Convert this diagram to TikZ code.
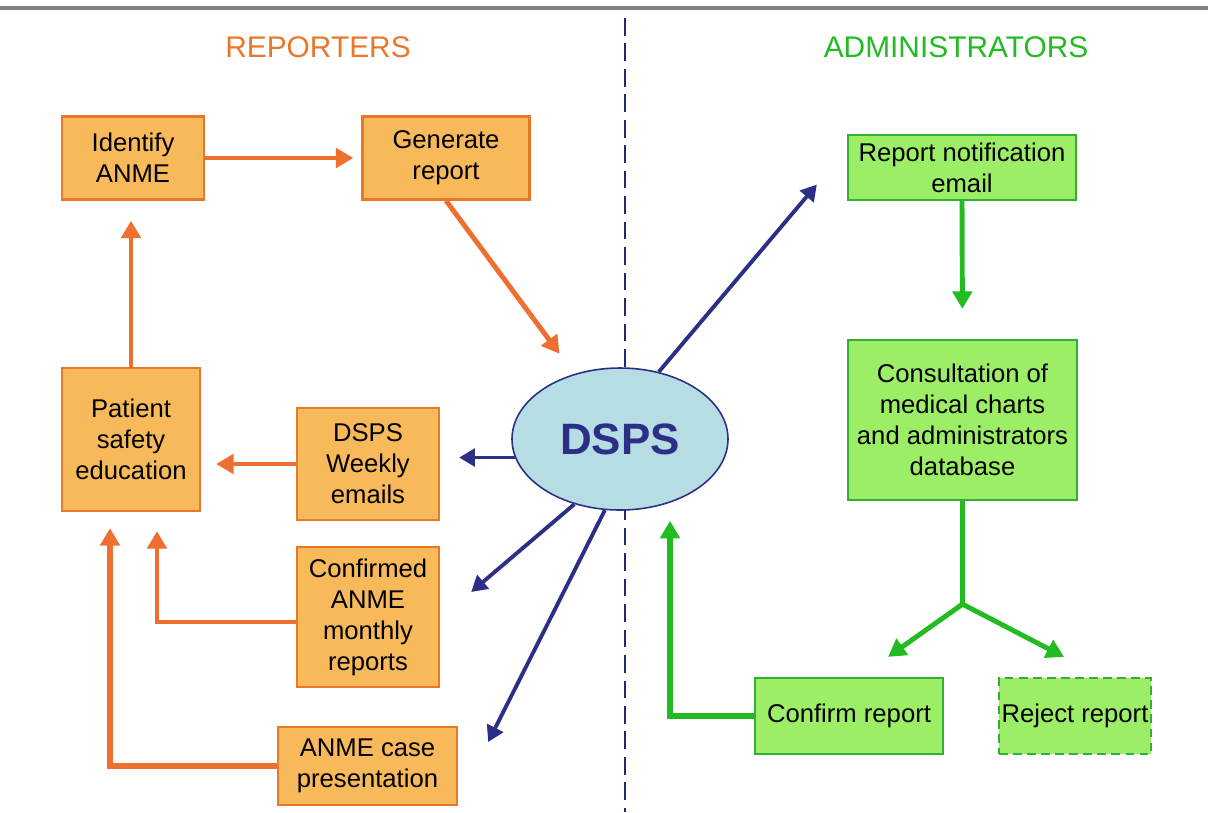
\documentclass[tikz,border=0pt]{standalone}
\usepackage{fontspec}
\setmainfont{Liberation Sans}
\usepackage{tikz}
\usetikzlibrary{shapes.geometric,arrows.meta}
\definecolor{repfill}{HTML}{F7B95A}
\definecolor{repline}{HTML}{E8782A}
\definecolor{reparrow}{HTML}{EE7030}
\definecolor{admfill}{HTML}{9CEE66}
\definecolor{admline}{HTML}{33B033}
\definecolor{admarrow}{HTML}{22BB22}
\definecolor{navy}{HTML}{2B2F86}
\definecolor{hubfill}{HTML}{B6DDE3}
\tikzset{
  box/.style = {align=center, inner sep=0pt, text centered, font=\fontsize{14.6}{17.6}\selectfont, line width=1.3pt},
  rbox/.style = {box, rectangle, draw=repline, fill=repfill},
  abox/.style = {box, rectangle, draw=admline, fill=admfill},
  hub/.style = {ellipse, draw=navy, fill=hubfill, line width=0.9pt, minimum width=4.32cm, minimum height=2.84cm, text=navy, font=\fontsize{25}{30}\bfseries},
  header/.style = {font=\fontsize{17}{20}\selectfont},
  rarrow/.style = {draw=reparrow, line width=2.8pt, -{Triangle[length=10pt,width=11pt]}},
  aarrow/.style = {draw=admarrow, line width=2.8pt, -{Triangle[length=10pt,width=11pt]}},
  barrow/.style = {draw=navy, line width=2.2pt, -{Triangle[length=9pt,width=10pt]}},
}

\begin{document}
\begin{tikzpicture}
\useasboundingbox (0,0) rectangle (24.16,-16.24);
\draw [gray, line width=2.2pt] (0,-0.16) -- (24.16,-0.16);
\draw [navy!85!black, line width=1.4pt, dash pattern=on 10pt off 4.5pt] (12.5,-0.36) -- (12.5,-16.24);

\node [header, text=repline] (rep) at (6.36,-0.94) {REPORTERS};
\node [header, text=admarrow] (adm) at (19.12,-0.94) {ADMINISTRATORS};

\node [rbox, minimum width=2.84cm, minimum height=1.66cm] (ident) at (2.66,-3.16) {Identify\\ANME};
\node [rbox, minimum width=3.34cm, minimum height=1.66cm] (gen) at (8.92,-3.16) {Generate\\report};
\node [rbox, minimum width=2.76cm, minimum height=2.86cm] (edu) at (2.62,-8.79) {Patient\\safety\\education};
\node [rbox, minimum width=2.84cm, minimum height=2.24cm] (weekly) at (7.36,-9.28) {DSPS\\Weekly\\emails};
\node [rbox, minimum width=2.84cm, minimum height=2.8cm] (monthly) at (7.36,-12.34) {Confirmed\\ANME\\monthly\\reports};
\node [rbox, minimum width=3.58cm, minimum height=1.56cm] (case) at (7.35,-15.32) {ANME case\\presentation};

\node [hub] (dsps) at (12.4,-8.78) {DSPS};

\node [abox, minimum width=4.56cm, minimum height=1.3cm] (notif) at (19.24,-3.35) {Report notification\\email};
\node [abox, minimum width=4.58cm, minimum height=3.2cm] (consult) at (19.25,-8.4) {Consultation of\\medical charts\\and administrators\\database};
\node [abox, minimum width=3.76cm, minimum height=1.52cm] (confirm) at (16.98,-14.32) {Confirm report};
\node [abox, dash pattern=on 5pt off 3pt, minimum width=3.04cm, minimum height=1.52cm] (reject) at (21.5,-14.32) {Reject report};
\coordinate (split) at ([yshift=-2.06cm]consult.south);

% reporters
\draw [rarrow, shorten >=0.16cm] (ident.east) -- (gen.west);
\draw [rarrow, shorten >=0.5cm] (gen.south) -- (dsps.125);
\draw [rarrow, shorten >=0.4cm] (edu.north) -- (edu.north |- ident.south);
\draw [rarrow, shorten >=0.3cm] (weekly.west) -- (weekly.west -| edu.east);
\draw [rarrow, shorten >=0.38cm] ([yshift=-0.1cm]monthly.west) -| ([xshift=0.52cm]edu.south);
\draw [rarrow, line width=3.3pt, shorten >=0.32cm] (case.west) -| ([xshift=-0.42cm]edu.south);

% dsps
\draw [barrow, shorten >=0.38cm] (dsps.190) -- (dsps.190 -| weekly.east);
\draw [barrow] (dsps.235) -- ([xshift=0.62cm,yshift=0.5cm]monthly.east);
\draw [barrow] (dsps.258) -- ([xshift=0.6cm,yshift=0.48cm]case.east);
\draw [barrow] (dsps.60) -- ([xshift=-0.6cm,yshift=-0.34cm]notif.west);

% administrators
\draw [aarrow, shorten >=0.6cm] (notif.south) -- (consult.north);
\draw [admarrow, line width=3pt] (consult.south) -- (split);
\draw [aarrow] (split) -- ([xshift=0.78cm,yshift=0.4cm]confirm.north);
\draw [aarrow] (split) -- ([xshift=-0.22cm,yshift=0.4cm]reject.north);
\draw [aarrow, line width=3pt] (confirm.west) -| ([xshift=1cm,yshift=-0.2cm]dsps.south);
\end{tikzpicture}
\end{document}
